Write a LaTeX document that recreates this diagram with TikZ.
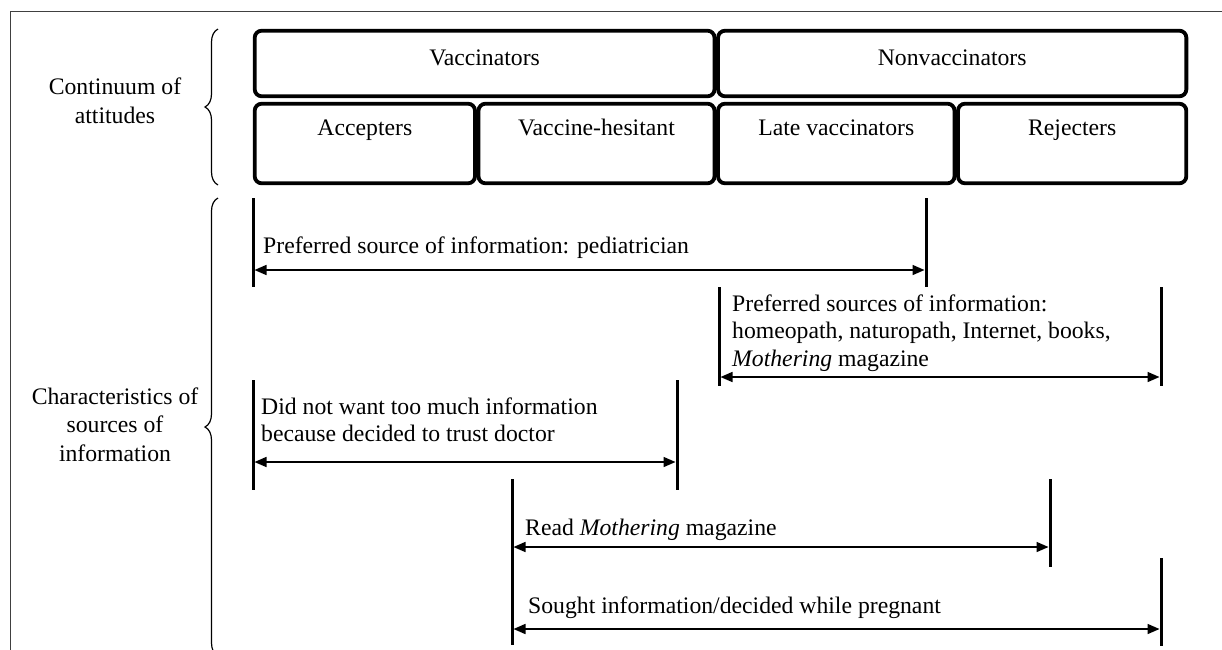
\documentclass[tikz,border=0pt]{standalone}
\usepackage{fontspec}
\setmainfont{Liberation Serif}
\usetikzlibrary{arrows.meta,decorations.pathreplacing}
\begin{document}
\begin{tikzpicture}[x=1pt,y=-1pt,
  txt/.style={font=\fontsize{23.7}{27.5}\selectfont, inner sep=0pt},
  box/.style={draw, line width=3.8pt, rounded corners=7pt, inner sep=0pt,
    text height=16pt, font=\fontsize{23.7}{27.5}\selectfont},
  toprow/.style={box, minimum height=65.6pt, text depth=12.4pt},
  botrow/.style={box, minimum height=79.6pt, text depth=32.4pt},
  bar/.style={line width=3pt},
  span/.style={line width=1.6pt, shorten <=1.5pt, shorten >=1.5pt,
    {Triangle[length=12pt,width=10pt]}-{Triangle[length=12pt,width=10pt]}},
  frameline/.style={line width=1.4pt, black!75},
  curly/.style={line width=1.2pt, decorate, decoration={brace, amplitude=13pt}},
]
\useasboundingbox (0,0) rectangle (1222,649);
\clip (0,0) rectangle (1222,649);
\fill[white] (0,0) rectangle (1222,649);

% frame
\draw[frameline] (10.5,700) -- (10.5,11.5) -- (1240,11.5);

% left labels and braces
\node[txt, align=center, anchor=north, font=\fontsize{23.7}{29}\selectfont] (cont) at (115,77.3) {Continuum of\\attitudes};
\node[txt, align=center, anchor=north, font=\fontsize{23.7}{28.5}\selectfont] (char) at (115,387.3) {Characteristics of\\sources of\\information};
\draw[curly] (218,185) -- (218,29);
\draw[curly] (218,656) -- (218,198);

% attitude boxes
\node[toprow, minimum width=459.8pt] (vac) at (484.6,63.5) {Vaccinators};
\node[toprow, minimum width=468.3pt] (nonvac) at (952.2,63.5) {Nonvaccinators};
\node[botrow, minimum width=220.3pt] (acc) at (364.85,143.5) {Accepters};
\node[botrow, minimum width=236pt] (hes) at (596.5,143.5) {Vaccine-hesitant};
\node[botrow, minimum width=236.5pt] (late) at (836.25,143.5) {Late vaccinators};
\node[botrow, minimum width=228.3pt] (rej) at (1072.15,143.5) {Rejecters};

% 1 pediatrician
\draw[bar] (253,198) -- (253,287);
\draw[bar] (926,198) -- (926,287);
\coordinate (p1) at (253,270);
\coordinate (p2) at (926,270);
\draw[span] (p1) -- (p2);
\node[txt, anchor=west] (t1) at (263,248) {Preferred source of information: pediatrician};

% 2 preferred sources
\draw[bar] (719,287) -- (719,386);
\draw[bar] (1161,287) -- (1161,386);
\coordinate (q1) at (719,377);
\coordinate (q2) at (1161,377);
\draw[span] (q1) -- (q2);
\node[txt, align=left, anchor=north west] (t2) at (732,294.3) {Preferred sources of information:\\homeopath, naturopath, Internet, books,\\\textit{Mothering} magazine};

% 3 did not want
\draw[bar] (253,380) -- (253,490);
\draw[bar] (677,380) -- (677,490);
\coordinate (r1) at (253,462);
\coordinate (r2) at (677,462);
\draw[span] (r1) -- (r2);
\node[txt, align=left, anchor=north west, font=\fontsize{23.7}{27}\selectfont] (t3) at (261,397.3) {Did not want too much information\\because decided to trust doctor};

% 4 read Mothering
\draw[bar] (512,479) -- (512,645);
\draw[bar] (1050,479) -- (1050,567);
\coordinate (s1) at (512,547);
\coordinate (s2) at (1050,547);
\draw[span] (s1) -- (s2);
\node[txt, anchor=west] (t4) at (525,530) {Read \textit{Mothering} magazine};

% 5 sought information
\draw[bar] (1161,558) -- (1161,646);
\coordinate (u1) at (512,629);
\coordinate (u2) at (1161,629);
\draw[span] (u1) -- (u2);
\node[txt, anchor=west] (t5) at (528,608) {Sought information/decided while pregnant};
\end{tikzpicture}
\end{document}
